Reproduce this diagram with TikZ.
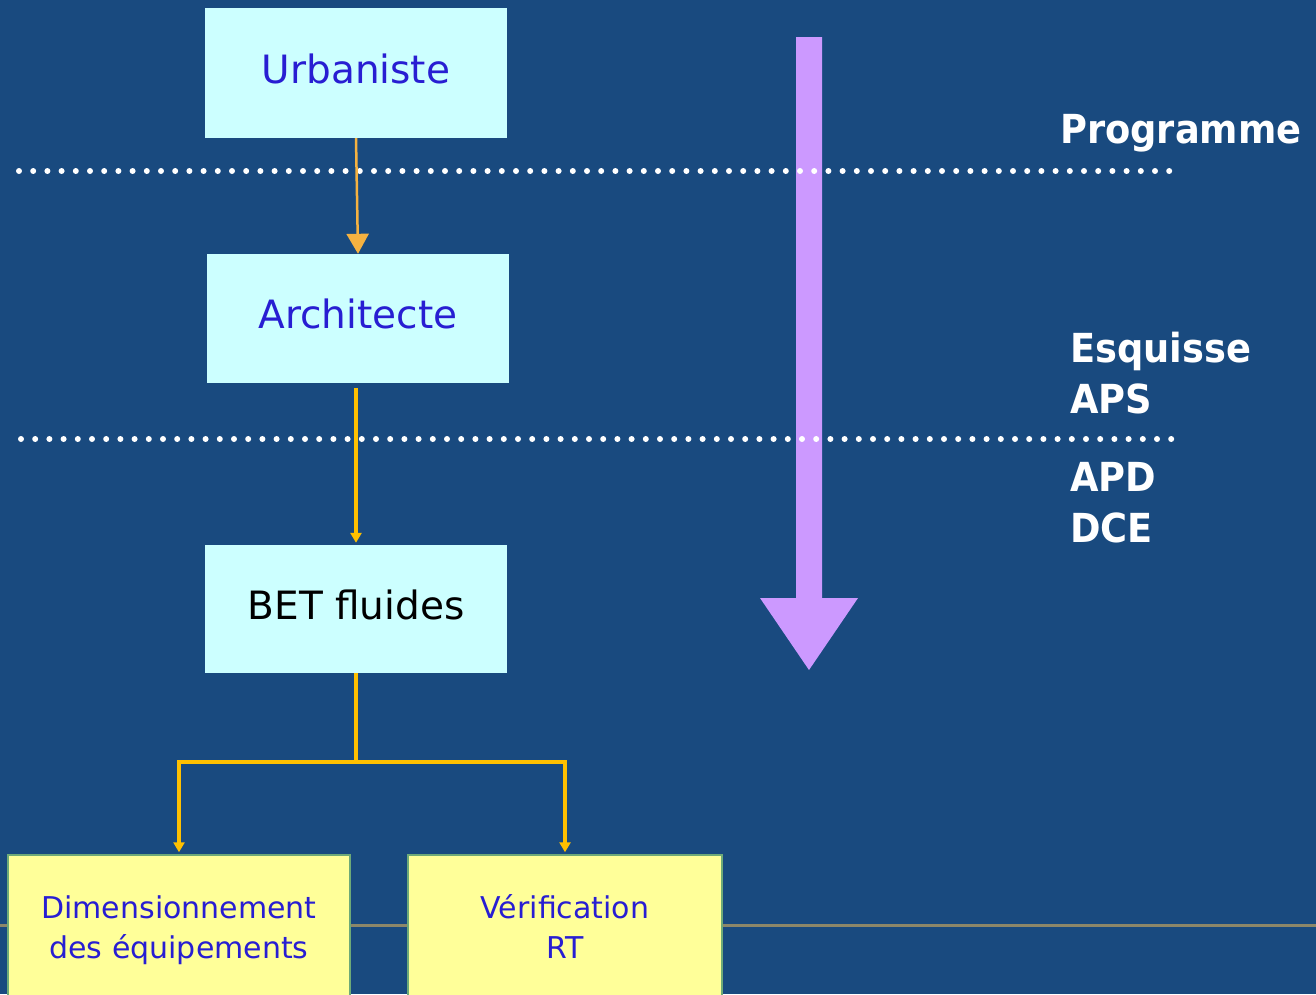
\documentclass[tikz,border=0pt]{standalone}
\usepackage{fontspec}
\setmainfont{DejaVu Sans}
\newfontfamily\phasefont{DejaVu Sans}[FakeStretch=0.92]
\usetikzlibrary{arrows.meta}
\definecolor{bg}{RGB}{25,74,127}
\definecolor{cyanbox}{RGB}{204,255,255}
\definecolor{yelbox}{RGB}{255,255,153}
\definecolor{boxtext}{RGB}{40,30,210}
\definecolor{orangearr}{RGB}{245,178,65}
\definecolor{goldarr}{RGB}{255,192,0}
\definecolor{purplearr}{RGB}{204,153,255}
\definecolor{rulecol}{RGB}{140,135,105}
\definecolor{yelborder}{RGB}{110,170,120}
\tikzset{
  cbox/.style={fill=cyanbox, draw=none, minimum width=302pt, minimum height=130pt, inner sep=0pt,
    text depth=9pt, font=\fontsize{39}{44}\selectfont, text=boxtext},
  ybox/.style={fill=yelbox, draw=yelborder, line width=1.5pt, inner sep=0pt, align=center,
    font=\fontsize{30}{40}\selectfont, text=boxtext},
  phase/.style={anchor=base west, text=white, font=\phasefont\fontsize{40}{51}\selectfont\bfseries, align=left, inner sep=0pt},
  dotline/.style={white, line width=6pt, line cap=round, dash pattern=on 0pt off 14.2pt},
  goldline/.style={goldarr, line width=3.5pt},
}
\begin{document}
\begin{tikzpicture}[x=1pt,y=-1pt]
\useasboundingbox (0,0) rectangle (1316,994);
\clip (0,0) rectangle (1316,994);
\fill[bg] (0,0) rectangle (1316,994);
% bottom rule
\draw[rulecol, line width=3pt] (0,925) -- (1316,925);
% purple arrow
\fill[purplearr] (796,37) -- (822,37) -- (822,598) -- (858,598) -- (809,670) -- (760,598) -- (796,598) -- cycle;
% dotted lines
\draw[dotline] (19,171) -- (1180,171);
\draw[dotline] (21,439) -- (1183,439);
% boxes
\node[cbox] (u) at (356,73) {Urbaniste};
\node[cbox, minimum height=129pt] (a) at (358,318.5) {Architecte};
\node[cbox, minimum height=128pt, text=black] (b) at (356,609) {BET fluides};
\node[ybox, minimum width=342pt, minimum height=150pt] (d) at (179,930) {Dimensionnement\\des équipements};
\node[ybox, minimum width=314pt, minimum height=142pt] (v) at (565,926) {Vérification\\RT};
% connectors
\draw[orangearr, line width=2.5pt, -{Triangle[width=22pt,length=20pt]}] (u.south) -- (a.north);
\draw[goldline, -{Triangle[width=11pt,length=10pt]}, shorten <=5pt, shorten >=2pt] (a.south -| b.north) -- (b.north);
\coordinate (j) at ([yshift=-89pt]b.south);
\draw[goldline] (b.south) -- (j);
\draw[goldline, -{Triangle[width=11pt,length=10pt]}, shorten >=2pt] (j) -| (d.north);
\draw[goldline, -{Triangle[width=11pt,length=10pt]}, shorten >=2pt] (j) -| (v.north);
% phase labels
\node[phase] (p1) at (1060,143) {Programme};
\node[phase] (p2) at (1070,413) {Esquisse\\APS};
\node[phase] (p3) at (1070,542) {APD\\DCE};
\end{tikzpicture}
\end{document}
